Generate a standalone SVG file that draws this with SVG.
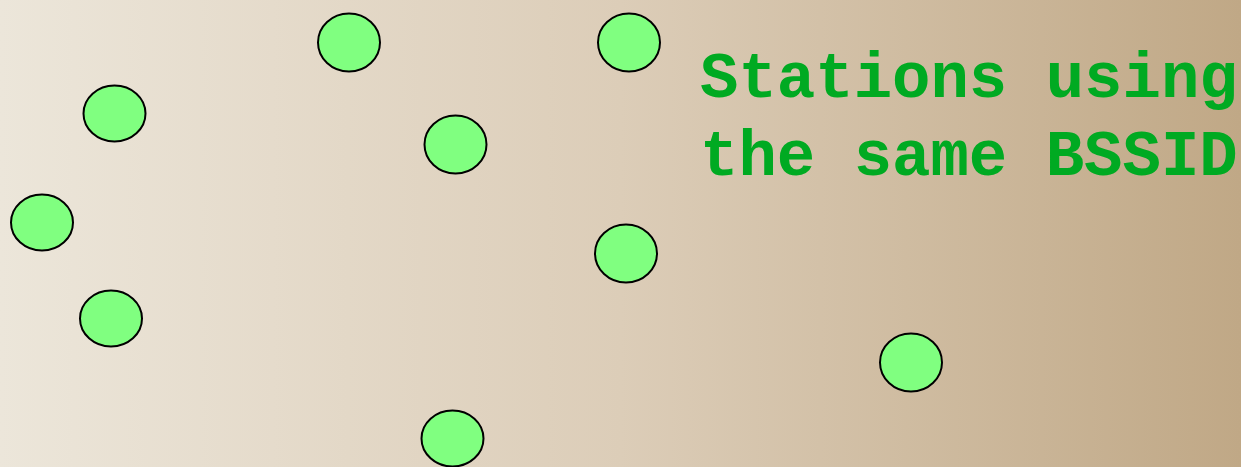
<svg xmlns="http://www.w3.org/2000/svg" width="1241" height="467" viewBox="0 0 1241 467">
<defs>
<linearGradient id="bg" x1="0" y1="0" x2="1" y2="0">
<stop offset="0" stop-color="#ECE6DA"/>
<stop offset="0.5" stop-color="#DCCDB8"/>
<stop offset="1" stop-color="#C0A886"/>
</linearGradient>
<style>
.st{fill:#80FF80;stroke:#000;stroke-width:2}
.lbl{font-family:"Liberation Mono","Courier New",monospace;font-weight:bold;font-size:64px;fill:#00AA22}
</style>
</defs>
<rect width="1241" height="467" fill="url(#bg)"/>
<g id="station1"><ellipse class="st" cx="114.5" cy="113.5" rx="31" ry="28"/></g>
<g id="station2"><ellipse class="st" cx="349" cy="42.5" rx="31" ry="29"/></g>
<g id="station3"><ellipse class="st" cx="629" cy="42.5" rx="31" ry="29"/></g>
<g id="station4"><ellipse class="st" cx="455.5" cy="144.5" rx="31" ry="29"/></g>
<g id="station5"><ellipse class="st" cx="42" cy="222.5" rx="31" ry="28"/></g>
<g id="station6"><ellipse class="st" cx="626" cy="253.5" rx="31" ry="29"/></g>
<g id="station7"><ellipse class="st" cx="111" cy="318.5" rx="31" ry="28"/></g>
<g id="station8"><ellipse class="st" cx="911" cy="362.5" rx="31" ry="29"/></g>
<g id="station9"><ellipse class="st" cx="452.5" cy="438.5" rx="31" ry="28"/></g>
<g id="connectors"/>
<g id="label">
<text class="lbl" x="700" y="97">Stations using</text>
<text class="lbl" x="700" y="175">the same BSSID</text>
</g>
</svg>
